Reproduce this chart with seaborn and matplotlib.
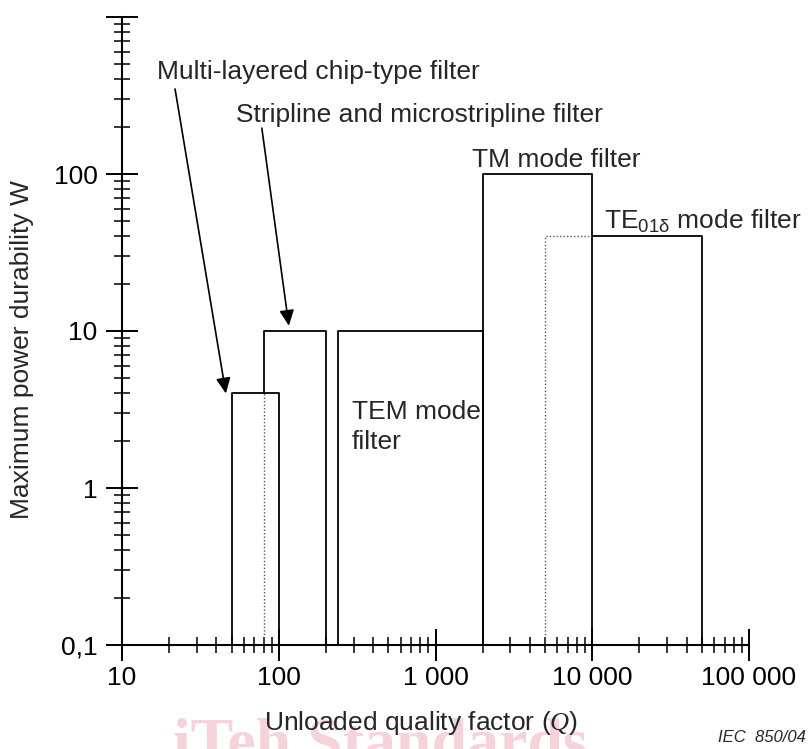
import seaborn as sns
import matplotlib.pyplot as plt
import pandas as pd
from matplotlib.ticker import FixedLocator, FixedFormatter, LogLocator, NullFormatter

# filter regions (Q range, max power)
filters = ["Multi-layered chip-type filter", "Stripline and microstripline filter",
           "TEM mode filter", "TM mode filter", "TE01d mode filter"]
q_low = [50, 80, 240, 2000, 10000]
q_high = [100, 200, 2000, 10000, 50000]
power_max = [4, 10, 10, 100, 40]
# where each solid left edge starts (below that it is hidden / dotted)
edge_floor = [0.1, 4, 0.1, 0.1, 40]
# dotted extension of the TE01d region
te_q_low_alt = 5000

x_ticks = [10, 100, 1000, 10000, 100000]
x_labels = ["10", "100", "1 000", "10 000", "100 000"]
y_ticks = [0.1, 1, 10, 100, 1000]
y_labels = ["0,1", "1", "10", "100", ""]

sns.set_style("ticks")
plt.rcParams['font.family'] = ['Liberation Sans', 'DejaVu Sans']
plt.rcParams['mathtext.fontset'] = 'custom'
plt.rcParams['mathtext.rm'] = 'Liberation Sans'
plt.rcParams['mathtext.it'] = 'Liberation Serif:italic'
plt.rcParams['mathtext.default'] = 'regular'

rows = []
for i, name in enumerate(filters):
    pts = [(q_low[i], edge_floor[i]), (q_low[i], power_max[i]),
           (q_high[i], power_max[i]), (q_high[i], 0.1)]
    for k, (q, w) in enumerate(pts):
        rows.append({"shape": name, "order": k, "q": q, "w": w})
outline = pd.DataFrame(rows)

dots = pd.DataFrame({
    "shape": ["strip", "strip", "te", "te", "te"],
    "q": [q_low[1], q_low[1], te_q_low_alt, te_q_low_alt, q_low[4]],
    "w": [0.1, power_max[0], 0.1, power_max[4], power_max[4]],
})

fig = plt.figure(figsize=(8.09, 7.49), dpi=100)
ax = fig.add_axes([122 / 809, 104 / 749, 627 / 809, 628 / 749])

sns.lineplot(data=outline, x="q", y="w", units="shape", estimator=None, sort=False,
             color="black", lw=1.3, ax=ax)
sns.lineplot(data=dots, x="q", y="w", units="shape", estimator=None, sort=False,
             color="#555555", lw=1.0, ls=(0, (1, 1.5)), ax=ax)

ax.set_xscale("log")
ax.set_yscale("log")
ax.set_xlim(10, 100000)
ax.set_ylim(0.1, 1000)
ax.set_xlabel("")
ax.set_ylabel("")

ax.xaxis.set_major_locator(FixedLocator(x_ticks))
ax.xaxis.set_major_formatter(FixedFormatter(x_labels))
ax.yaxis.set_major_locator(FixedLocator(y_ticks))
ax.yaxis.set_major_formatter(FixedFormatter(y_labels))
for axis in (ax.xaxis, ax.yaxis):
    axis.set_minor_locator(LogLocator(base=10, subs=range(2, 10)))
    axis.set_minor_formatter(NullFormatter())
ax.tick_params(which="major", direction="inout", length=23, width=1.4,
               labelsize=19, pad=6, color="black", labelcolor="black")
ax.tick_params(axis="x", which="major", pad=3.5)
ax.tick_params(which="minor", direction="inout", length=12, width=1.1, color="black")
sns.despine(ax=ax)
for s in ("left", "bottom"):
    ax.spines[s].set_linewidth(1.5)
    ax.spines[s].set_color("black")

# labels and arrows
arrow = dict(arrowstyle="-|>,head_length=0.47,head_width=0.22",
             mutation_scale=20, color="black", lw=1.2, shrinkA=0, shrinkB=0)
ax.text(16.7, 446, "Multi-layered chip-type filter", fontsize=19, va="center", ha="left")
ax.annotate("", xy=(46, 4.0), xytext=(21.8, 348), arrowprops=arrow)
ax.text(53, 238, "Stripline and microstripline filter", fontsize=19, va="center", ha="left")
ax.annotate("", xy=(116, 10.8), xytext=(78, 196), arrowprops=arrow)
ax.text(1720, 123, "TM mode filter", fontsize=19, va="center", ha="left")
ax.text(11900, 50, r"TE$_{01\delta}$ mode filter", fontsize=19, va="center", ha="left")
ax.text(292, 2.45, "TEM mode\nfilter", fontsize=19, va="center", ha="left", linespacing=1.35)

fig.text(22 / 809, 1 - 350 / 749, "Maximum power durability W", rotation=90,
         fontsize=19, ha="center", va="center")
fig.text(0.47, -0.035, "iTeh Standards", fontsize=46, fontweight="bold",
         family="Liberation Serif", color="#f6d3da", ha="center", va="bottom", zorder=0)
fig.text(421 / 809, 1 - 723 / 749, r"Unloaded quality factor ($\mathit{Q}$)",
         fontsize=19, ha="center", va="center")
fig.text(718 / 809, 1 - 737 / 749, "IEC  850/04", fontsize=12, style="italic",
         ha="left", va="center")

fig.savefig("out.png", dpi=100)
